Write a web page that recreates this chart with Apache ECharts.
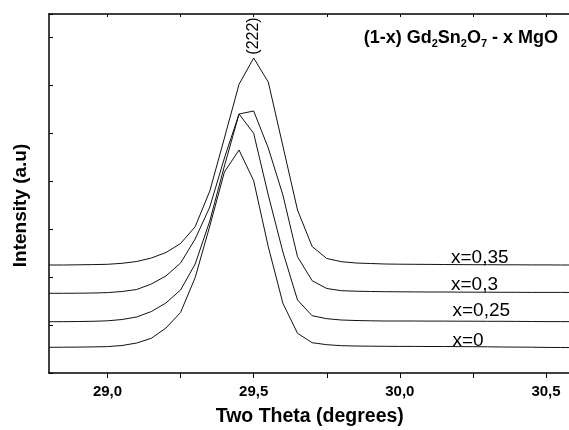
<!DOCTYPE html>
<html><head><meta charset="utf-8">
<script src="https://cdn.jsdelivr.net/npm/echarts@6/dist/echarts.min.js"></script>
<style>html,body{margin:0;padding:0;background:#fff}#c{width:569px;height:430px}</style>
</head><body><div id="c"></div>
<script>
// Two-theta positions (degrees)
const twoTheta = [28.80, 28.85, 28.90, 28.95, 29.00, 29.05, 29.10, 29.15, 29.20, 29.25, 29.30, 29.35, 29.40, 29.45, 29.50, 29.55, 29.60, 29.65, 29.70, 29.75, 29.80, 29.85, 29.90, 29.95, 30.00, 30.05, 30.10, 30.15, 30.20, 30.25, 30.30, 30.35, 30.40, 30.45, 30.50, 30.55, 30.60, 30.65, 30.70];
// Intensities (a.u., offset stacked as in the figure)
const intensityX035 = [108, 108, 108.2, 108.4, 108.7, 109.7, 111.5, 115, 120.5, 129.5, 146.3, 182, 235, 288.7, 315, 291, 227, 163, 126.5, 114.5, 111.3, 110, 109.5, 109, 108.8, 108.7, 108.6, 108.5, 108.4, 108.3, 108.3, 108.2, 108.2, 108.1, 108.1, 108, 108, 108, 108];
const intensityX030 = [79.7, 79.7, 79.8, 80, 80.4, 81.5, 83.5, 89, 97, 110, 134, 166, 215, 259, 262, 225, 178, 116.3, 92.3, 84.5, 82.3, 81.8, 81.5, 81.3, 81.2, 81.1, 81, 81, 80.9, 80.8, 80.8, 80.7, 80.7, 80.6, 80.6, 80.6, 80.5, 80.5, 80.5];
const intensityX025 = [51.3, 51.3, 51.5, 51.7, 52.2, 53.5, 56, 61.5, 70, 83, 109, 152, 207, 259, 239.7, 178, 121, 73, 57.3, 54.3, 53, 52.5, 52.2, 52, 52, 52, 51.9, 51.9, 51.8, 51.8, 51.7, 51.7, 51.6, 51.5, 51.4, 51.4, 51.3, 51.3, 51.3];
const intensityX000 = [25.7, 25.8, 25.9, 26.1, 26.4, 27.5, 30, 34.7, 45, 60.5, 95.5, 147, 201, 223, 192.3, 126.3, 69.7, 39.7, 30.3, 28.3, 27.3, 27, 26.8, 26.7, 26.6, 26.6, 26.5, 26.5, 26.4, 26.3, 26.2, 26, 25.9, 25.8, 25.6, 25.5, 25.4, 25.3, 25.3];
const seriesNames = ['x=0,35', 'x=0,3', 'x=0,25', 'x=0'];
const xTickLabels = [29.0, 29.5, 30.0, 30.5];
const xTickMarks = [29.0, 29.25, 29.5, 29.75, 30.0, 30.25, 30.5];
const peakLabel = '(222)';

// annotation anchors (data space)
const curveLabelAnchors = [[30.175, 115], [30.175, 88.3], [30.18, 62.5], [30.18, 32.5]];
const peakLabelAnchor = [29.5, 337];

const FONT = "'Liberation Sans', Arial, Helvetica, sans-serif";
const allSeries = [intensityX035, intensityX030, intensityX025, intensityX000];

const series = allSeries.map((vals, i) => {
  const md = [{ coord: curveLabelAnchors[i], label: { formatter: seriesNames[i] } }];
  if (i === 0) {
    md.push({ coord: peakLabelAnchor, label: { formatter: peakLabel, rotate: 90, position: 'inside', fontSize: 16 } });
  }
  return {
    name: seriesNames[i],
    type: 'line',
    data: twoTheta.map((t, k) => [t, vals[k]]),
    showSymbol: false,
    symbol: 'none',
    smooth: false,
    silent: true,
    lineStyle: { color: '#111', width: 1 },
    markPoint: {
      symbol: 'circle',
      symbolSize: 0,
      silent: true,
      label: { show: true, position: 'right', distance: 0, color: '#000', fontSize: 19, fontFamily: FONT },
      data: md
    }
  };
});

const chart = echarts.init(document.getElementById('c'), null, { renderer: 'canvas' });
chart.setOption({
  animation: false,
  backgroundColor: '#fff',
  title: {
    text: '(1-x) Gd{s|2}Sn{s|2}O{s|7} - x MgO',
    right: 6, top: 22,
    textStyle: {
      fontSize: 18, fontWeight: 'bold', color: '#000', fontFamily: FONT, lineHeight: 22,
      rich: { s: { fontSize: 11, fontWeight: 'bold', color: '#000', fontFamily: FONT, lineHeight: 13, verticalAlign: 'bottom' } }
    }
  },
  grid: { left: 49, top: 14, bottom: 57, right: -35.5, containLabel: false, outerBoundsMode: 'none' },
  xAxis: [{
    type: 'value', min: 28.8, max: 30.7, position: 'bottom',
    axisLine: { show: true, onZero: false, lineStyle: { color: '#000', width: 1.5 } },
    axisTick: { show: true, inside: false, length: 5, customValues: xTickMarks, lineStyle: { color: '#000', width: 1 } },
    axisLabel: { show: true, customValues: xTickLabels, margin: 11, fontSize: 15, fontWeight: 'bold', color: '#000', fontFamily: FONT,
      formatter: v => v.toFixed(1).replace('.', ',') },
    splitLine: { show: false },
    name: 'Two Theta (degrees)', nameLocation: 'middle', nameGap: 34,
    nameTextStyle: { fontSize: 19.5, fontWeight: 'bold', color: '#000', fontFamily: FONT, padding: [0, 34, 0, 0] }
  }, {
    type: 'value', min: 28.8, max: 30.7, position: 'top',
    axisLine: { show: true, onZero: false, lineStyle: { color: '#000', width: 1.5 } },
    axisTick: { show: true, inside: true, length: 3, customValues: xTickMarks, lineStyle: { color: '#000', width: 1 } },
    axisLabel: { show: false },
    splitLine: { show: false }
  }],
  yAxis: {
    type: 'value', min: 0, max: 359, interval: 48,
    axisLine: { show: true, onZero: false, lineStyle: { color: '#000', width: 1.5 } },
    axisTick: { show: true, inside: true, length: 4, lineStyle: { color: '#000', width: 1 } },
    axisLabel: { show: false },
    splitLine: { show: false },
    name: 'Intensity (a.u)', nameLocation: 'middle', nameGap: 19, nameRotate: 90,
    nameTextStyle: { fontSize: 19, fontWeight: 'bold', color: '#000', fontFamily: FONT, padding: [0, 24, 0, 0] }
  },
  series: series
});
</script></body></html>
